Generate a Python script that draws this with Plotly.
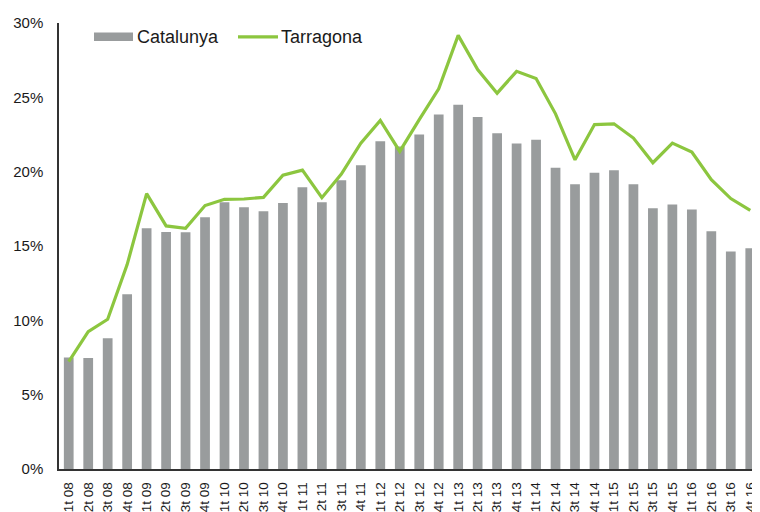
import plotly.graph_objects as go

categories = ["1t 08", "2t 08", "3t 08", "4t 08",
              "1t 09", "2t 09", "3t 09", "4t 09",
              "1t 10", "2t 10", "3t 10", "4t 10",
              "1t 11", "2t 11", "3t 11", "4t 11",
              "1t 12", "2t 12", "3t 12", "4t 12",
              "1t 13", "2t 13", "3t 13", "4t 13",
              "1t 14", "2t 14", "3t 14", "4t 14",
              "1t 15", "2t 15", "3t 15", "4t 15",
              "1t 16", "2t 16", "3t 16", "4t 16"]

catalunya = [7.5, 7.47, 8.79, 11.76,
             16.19, 15.95, 15.93, 16.93,
             17.94, 17.6, 17.34, 17.89,
             18.95, 17.94, 19.42, 20.44,
             22.05, 21.7, 22.5, 23.85,
             24.5, 23.67, 22.59, 21.9,
             22.15, 20.27, 19.15, 19.93,
             20.09, 19.15, 17.54, 17.79,
             17.45, 15.99, 14.63, 14.85]

tarragona = [7.22, 9.24, 10.07, 13.75,
             18.52, 16.35, 16.19, 17.72,
             18.14, 18.16, 18.27, 19.77,
             20.1, 18.25, 19.84, 21.92,
             23.45, 21.36, 23.5, 25.57,
             29.17, 26.87, 25.28, 26.75,
             26.26, 23.89, 20.8, 23.17,
             23.22, 22.26, 20.6, 21.92,
             21.32, 19.46, 18.19, 17.4]

series_names = ["Catalunya", "Tarragona"]

BAR_COLOR = "#999c9d"
LINE_COLOR = "#8cc63f"
FONT = "Liberation Sans, Arial, sans-serif"

# the page body has an 8px margin, so the figure is drawn 8px in from the window edge
OFF = 8
W, H = 760 - OFF, 512 - OFF
L, R, T = 59 - OFF, 0, 22.7 - OFF
B = H - (469.3 - OFF)
PW, PH = W - L - R, H - T - B


def px(x):
    return (x - OFF - L) / PW


def py(y):
    return (H - B - (y - OFF)) / PH


fig = go.Figure()
fig.add_trace(go.Bar(
    x=categories, y=[v / 100 for v in catalunya], name=series_names[0],
    marker=dict(color=BAR_COLOR, line=dict(width=0)),
))
fig.add_trace(go.Scatter(
    x=categories, y=[v / 100 for v in tarragona], name=series_names[1],
    mode="lines", line=dict(color=LINE_COLOR, width=3.2),
))

# manual legend (symbols as shapes, labels as real text)
fig.add_shape(type="rect", xref="paper", yref="paper",
              x0=px(94), x1=px(133), y0=py(40.7), y1=py(32.3),
              fillcolor=BAR_COLOR, line=dict(width=0))
fig.add_annotation(xref="paper", yref="paper", x=px(135), y=py(36.5),
                   xanchor="left", yanchor="middle",
                   text=series_names[0], showarrow=False,
                   font=dict(family=FONT, size=18, color="#1a1a1a"))
fig.add_shape(type="line", xref="paper", yref="paper",
              x0=px(238), x1=px(278), y0=py(36.5), y1=py(36.5),
              line=dict(color=LINE_COLOR, width=3.2))
fig.add_annotation(xref="paper", yref="paper", x=px(279), y=py(36.5),
                   xanchor="left", yanchor="middle",
                   text=series_names[1], showarrow=False,
                   font=dict(family=FONT, size=18, color="#1a1a1a"))

fig.update_layout(
    width=W, height=H,
    margin=dict(l=L, r=R, t=T, b=B, autoexpand=False),
    plot_bgcolor="white", paper_bgcolor="white",
    showlegend=False,
    bargap=0.5,
    font=dict(family=FONT, color="#1a1a1a"),
)
fig.update_yaxes(
    range=[0, 0.30], dtick=0.05, tickformat=".0%",
    showgrid=False, zeroline=False, automargin=False,
    showline=True, linecolor="#333333", linewidth=1.5,
    ticks="", ticklabelstandoff=11,
    tickfont=dict(family=FONT, size=15, color="#1a1a1a"),
)
fig.update_xaxes(
    showgrid=False, showline=True, linecolor="#333333", linewidth=1.5,
    automargin=False,
    ticks="", tickangle=-90, ticklabelstandoff=6,
    tickfont=dict(family=FONT, size=13.5, color="#1a1a1a"),
)

fig.write_html("out.html")
